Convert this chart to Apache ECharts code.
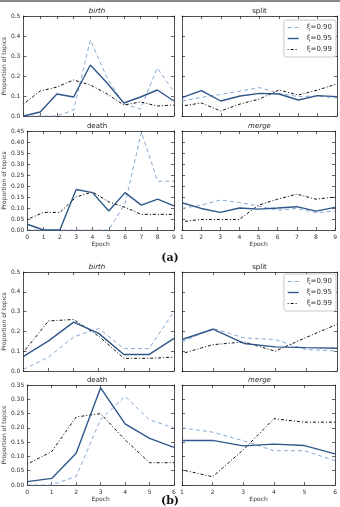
<!DOCTYPE html>
<html><head><meta charset="utf-8">
<script src="https://cdn.jsdelivr.net/npm/echarts@6/dist/echarts.min.js"></script>
<style>html,body{margin:0;padding:0;background:#fff}#c{width:340px;height:507px}</style>
</head><body><div id="c"></div><script>
// ---- data ----
const seriesNames = ['ξ=0.90', 'ξ=0.95', 'ξ=0.99'];
const epochsA0 = [0,1,2,3,4,5,6,7,8,9];
const epochsA1 = [1,2,3,4,5,6,7,8,9];
const epochsB0 = [0,1,2,3,4,5,6];
const epochsB1 = [1,2,3,4,5,6];

const aBirth090 = [0.0, 0.0, 0.0, 0.03, 0.38, 0.19, 0.06, 0.035, 0.24, 0.12];
const aBirth095 = [0.0, 0.02, 0.11, 0.095, 0.255, 0.165, 0.065, 0.095, 0.13, 0.075];
const aBirth099 = [0.06, 0.125, 0.145, 0.18, 0.155, 0.11, 0.055, 0.07, 0.05, 0.055];

const aSplit090 = [0.075, 0.093, 0.108, 0.125, 0.142, 0.113, 0.097, 0.1, 0.09];
const aSplit095 = [0.092, 0.127, 0.075, 0.1, 0.113, 0.11, 0.08, 0.102, 0.097];
const aSplit099 = [0.05, 0.065, 0.025, 0.06, 0.085, 0.13, 0.105, 0.13, 0.16];

const aDeath090 = [0, 0, 0, 0, 0, 0, 0.12, 0.445, 0.222, 0.222];
const aDeath095 = [0.026, 0, 0, 0.184, 0.17, 0.086, 0.17, 0.113, 0.14, 0.11];
const aDeath099 = [0.048, 0.08, 0.08, 0.15, 0.173, 0.128, 0.103, 0.071, 0.071, 0.071];

const aMerge090 = [0.098, 0.113, 0.136, 0.125, 0.109, 0.09, 0.098, 0.079, 0.086];
const aMerge095 = [0.124, 0.098, 0.08, 0.1, 0.095, 0.1, 0.106, 0.086, 0.103];
const aMerge099 = [0.038, 0.048, 0.048, 0.048, 0.113, 0.14, 0.163, 0.14, 0.15];

const bBirth090 = [0.008, 0.07, 0.172, 0.215, 0.113, 0.113, 0.3];
const bBirth095 = [0.074, 0.152, 0.247, 0.19, 0.083, 0.083, 0.165];
const bBirth099 = [0.096, 0.253, 0.26, 0.176, 0.064, 0.064, 0.07];

const bSplit090 = [0.147, 0.215, 0.167, 0.159, 0.108, 0.101];
const bSplit095 = [0.159, 0.211, 0.139, 0.122, 0.118, 0.115];
const bSplit099 = [0.088, 0.133, 0.147, 0.1, 0.169, 0.236];

const bDeath090 = [0, 0, 0.03, 0.23, 0.31, 0.228, 0.2];
const bDeath095 = [0.012, 0.023, 0.111, 0.34, 0.214, 0.163, 0.132];
const bDeath099 = [0.073, 0.117, 0.238, 0.25, 0.158, 0.078, 0.078];

const bMerge090 = [0.2, 0.185, 0.155, 0.12, 0.12, 0.085];
const bMerge095 = [0.156, 0.156, 0.137, 0.143, 0.138, 0.109];
const bMerge099 = [0.053, 0.029, 0.123, 0.232, 0.22, 0.22];

const panelTitles = ['birth', 'split', 'death', 'merge', 'birth', 'split', 'death', 'merge'];
const yTicksA1 = [0, 0.5, 0.1];   // min, max, step
const yTicksA2 = [0, 0.45, 0.05];
const yTicksB1 = [0, 0.5, 0.1];
const yTicksB2 = [0, 0.35, 0.05];
const yLabelName = 'Proportion of topics';
const xLabelName = 'Epoch';

// ---- layout / styling ----
const panels = [
  {grid:{left:20, top:16, width:154, height:100}, x:epochsA0, ys:[aBirth090,aBirth095,aBirth099], yt:yTicksA1, left:true, bottom:false, italic:true},
  {grid:{left:182, top:16, width:155, height:100}, x:epochsA1, ys:[aSplit090,aSplit095,aSplit099], yt:yTicksA1, left:false, bottom:false, italic:false},
  {grid:{left:20, top:131, width:154, height:99}, x:epochsA0, ys:[aDeath090,aDeath095,aDeath099], yt:yTicksA2, left:true, bottom:true, italic:false},
  {grid:{left:182, top:131, width:155, height:99}, x:epochsA1, ys:[aMerge090,aMerge095,aMerge099], yt:yTicksA2, left:false, bottom:true, italic:true},
  {grid:{left:20, top:272, width:154, height:99}, x:epochsB0, ys:[bBirth090,bBirth095,bBirth099], yt:yTicksB1, left:true, bottom:false, italic:true},
  {grid:{left:182, top:272, width:155, height:99}, x:epochsB1, ys:[bSplit090,bSplit095,bSplit099], yt:yTicksB1, left:false, bottom:false, italic:false},
  {grid:{left:20, top:385, width:154, height:100}, x:epochsB0, ys:[bDeath090,bDeath095,bDeath099], yt:yTicksB2, left:true, bottom:true, italic:false},
  {grid:{left:182, top:385, width:155, height:100}, x:epochsB1, ys:[bMerge090,bMerge095,bMerge099], yt:yTicksB2, left:false, bottom:true, italic:true},
];

const lineStyles = [
  {color:'#86a9d2', width:1, type:[4,3]},
  {color:'#2f578a', width:1.4, type:'solid'},
  {color:'#111111', width:1, type:[1,2,3,2]},
];

const axisColor = '#222';
const grids = [], xAxes = [], yAxes = [], series = [], graphics = [];

panels.forEach((p, i) => {
  grids.push(Object.assign({containLabel:false}, p.grid));
  const xmin = p.x[0], xmax = p.x[p.x.length - 1];
  const common = {axisLine:{show:true, onZero:false, lineStyle:{color:axisColor, width:0.8}},
                  axisTick:{show:true, inside:true, length:3, lineStyle:{color:axisColor, width:0.7}},
                  splitLine:{show:false}};
  xAxes.push(Object.assign({type:'value', gridIndex:i, position:'bottom', min:xmin, max:xmax, interval:1,
    axisLabel:{show:p.bottom, fontSize:6, color:'#333', margin:4, fontFamily:'DejaVu Sans'},
    name: p.bottom ? xLabelName : '', nameLocation:'middle', nameGap:11,
    nameTextStyle:{fontSize:6, color:'#333', fontFamily:'DejaVu Sans'}}, common));
  xAxes.push(Object.assign({type:'value', gridIndex:i, position:'top', min:xmin, max:xmax, interval:1,
    axisLabel:{show:false}}, common));
  const dec = p.yt[2] < 0.1 ? 2 : 1;
  yAxes.push(Object.assign({type:'value', gridIndex:i, position:'left', min:p.yt[0], max:p.yt[1], interval:p.yt[2],
    axisLabel:{show:p.left, fontSize:6, color:'#333', margin:3, fontFamily:'DejaVu Sans', formatter:v => v.toFixed(dec)},
    name: p.left ? yLabelName : '', nameLocation:'middle', nameGap: dec === 2 ? 17 : 13,
    nameTextStyle:{fontSize:6, color:'#333', fontFamily:'DejaVu Sans'}}, common));
  yAxes.push(Object.assign({type:'value', gridIndex:i, position:'right', min:p.yt[0], max:p.yt[1], interval:p.yt[2],
    axisLabel:{show:false}}, common));
  p.ys.forEach((arr, k) => {
    series.push({type:'line', name:seriesNames[k], xAxisIndex:2*i, yAxisIndex:2*i,
      data: arr.map((v, j) => [p.x[j], v]), symbol:'none', showSymbol:false,
      lineStyle:lineStyles[k], itemStyle:{color:lineStyles[k].color}, silent:true, z: k === 1 ? 3 : 2});
  });
  graphics.push({type:'text', x:p.grid.left + p.grid.width / 2, y:p.grid.top - 1,
    style:{text:panelTitles[i], fill:'#222', fontSize:7, fontFamily:'DejaVu Sans',
      fontStyle:p.italic ? 'italic' : 'normal', textAlign:'center', textVerticalAlign:'bottom'}});
});

graphics.push({type:'rect', shape:{x:0, y:0, width:340, height:2}, style:{fill:'#8a8a8a'}});
graphics.push({type:'text', x:170, y:258, style:{text:'(a)', fill:'#111', fontSize:11, fontWeight:'bold',
  fontFamily:'DejaVu Serif', textAlign:'center', textVerticalAlign:'middle'}});
graphics.push({type:'text', x:170, y:501, style:{text:'(b)', fill:'#111', fontSize:11, fontWeight:'bold',
  fontFamily:'DejaVu Serif', textAlign:'center', textVerticalAlign:'middle'}});

const legendCommon = {orient:'vertical', itemWidth:11, itemHeight:6, itemGap:4, padding:[4,4,4,3],
  backgroundColor:'#fff', borderColor:'#bbb', borderWidth:0.8, borderRadius:2,
  itemStyle:{opacity:0}, lineStyle:{width:'inherit'},
  textStyle:{fontSize:7, color:'#333', fontFamily:'DejaVu Sans', padding:[0,0,0,3]},
  selectedMode:false, data:seriesNames};

const option = {
  animation:false,
  backgroundColor:'#fff',
  grid:grids, xAxis:xAxes, yAxis:yAxes, series:series,
  legend:[Object.assign({right:4, top:20}, legendCommon), Object.assign({right:4, top:274}, legendCommon)],
  graphic:graphics,
};
const chart = echarts.init(document.getElementById('c'), null, {renderer:'canvas'});
chart.setOption(option);
</script></body></html>
